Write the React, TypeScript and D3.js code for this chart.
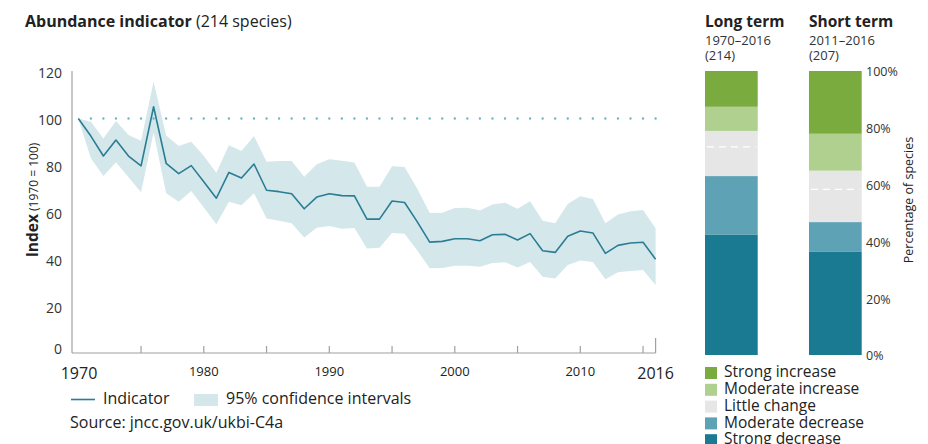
import React from "react";
import * as d3 from "d3";

const years = [1970,1971,1972,1973,1974,1975,1976,1977,1978,1979,1980,1981,1982,1983,1984,1985,1986,1987,1988,1989,1990,1991,1992,1993,1994,1995,1996,1997,1998,1999,2000,2001,2002,2003,2004,2005,2006,2007,2008,2009,2010,2011,2012,2013,2014,2015,2016];
const indicator = [100,92.5,84,90.8,84,79.8,105,80.9,76.5,79.9,73,66,77,74.6,80.6,69.4,68.8,67.9,61.5,66.5,67.9,67.1,67,57.1,57.1,64.8,64.2,56,47.3,47.6,48.7,48.7,47.9,50.4,50.6,48.2,50.9,43.6,42.9,49.8,52,51.2,42.5,45.9,46.9,47.2,40];
const upper = [100,98.6,91.5,98.9,93,90.5,115.7,92.7,88.3,90.1,84,76.9,88.6,86.1,92.5,81.6,81.9,81.9,75.2,80.5,82.6,82,81.2,70.9,70.9,79.6,79.3,70.2,59.7,59.8,61.8,61.9,60.8,63.3,64.1,61.5,64.7,56.4,55.3,63.5,66.8,65.7,55.3,59.1,60.4,61,53.2];
const lower = [100,83,75.5,81.3,74.9,68.5,94,68.1,64.5,69.1,62,54.9,64.5,63,68.1,57.4,56.4,55.3,49.3,53.4,54.2,53,53.3,44.6,44.9,51.2,50.9,43.8,36.1,36.3,37.2,37.2,36.8,38.4,38.7,36.5,38.8,32.5,31.8,37.5,39.4,38.8,31.4,34.4,35,35.4,29];
const yTicks = [0,20,40,60,80,100,120];
const xTicks = [1975,1980,1985,1990,1995,2000,2005,2010,2015,2016];
const xLabels = [1970,1980,1990,2000,2010,2016];

const barGroups = ["Long term","Short term"];
const barPeriods = ["1970–2016","2011–2016"];
const barCounts = ["(214)","(207)"];
const categories = ["Strong decrease","Moderate decrease","Little change","Moderate increase","Strong increase"];
const longTerm = [42.3,20.7,15.9,8.5,12.6];
const shortTerm = [36.3,10.5,18.1,13.0,22.1];
const dashMarks = [73.3,58.3];
const pctTicks = [0,20,40,60,80,100];
const catColors = ["#1a7a92","#5ea3b5","#e6e6e6","#afd08f","#7aab3f"];
const legendOrder = ["Strong increase","Moderate increase","Little change","Moderate decrease","Strong decrease"];

const FONT = "'Open Sans', 'Noto Sans', sans-serif";

export default function App() {
  const x = d3.scaleLinear().domain([1970, 2016]).range([78.3, 655.6]);
  const y = d3.scaleLinear().domain([0, 120]).range([353, 71.6]);
  const pts = years.map((yr, i) => ({ yr, v: indicator[i], lo: lower[i], hi: upper[i] }));
  const area = d3.area<any>().x(d => x(d.yr)).y0(d => y(d.lo)).y1(d => y(d.hi));
  const line = d3.line<any>().x(d => x(d.yr)).y(d => y(d.v));

  const bx = d3.scaleBand().domain(barGroups).range([705, 861.7]).paddingInner(0.493).paddingOuter(0);
  const by = d3.scaleLinear().domain([0, 100]).range([355, 71]);
  const barData = [longTerm, shortTerm];
  const step = x(1971) - x(1970);

  return (
    <svg width={928} height={444} style={{ position: "absolute", left: 0, top: 0, background: "#fff" }} fontFamily={FONT}>
      <text x={25} y={27} fontSize={16} fill="#222">
        <tspan fontWeight="bold">Abundance indicator</tspan>
        <tspan> (214 species)</tspan>
      </text>

      {/* CI band and line */}
      <path d={area(pts) || ""} fill="#d4e7eb" />
      <line x1={x(1971)} x2={x(2016) + 1} y1={y(100)} y2={y(100)} stroke="#6db6c4" strokeWidth={2.4} strokeLinecap="round" strokeDasharray={`0 ${step}`} />
      <path d={line(pts) || ""} fill="none" stroke="#2a7d93" strokeWidth={1.6} strokeLinejoin="round" />

      {/* axes */}
      <line x1={72} x2={72} y1={71} y2={y(0)} stroke="#a0a0a0" strokeWidth={1.2} />
      <line x1={72} x2={x(2016)} y1={y(0)} y2={y(0)} stroke="#a0a0a0" strokeWidth={1.2} />
      {xTicks.map(t => (
        <line key={t} x1={x(t)} x2={x(t)} y1={y(0)} y2={y(0) - (t === 2016 ? 15 : 7)} stroke="#a0a0a0" strokeWidth={1.2} />
      ))}
      {yTicks.map(t => (
        <text key={t} x={62} y={t === 0 ? y(t) - 3 : y(t) + 3} textAnchor="end" dominantBaseline="middle" fontSize={14} fill="#333">{t}</text>
      ))}
      {xLabels.map(t => {
        const big = t === 1970 || t === 2016;
        return (
          <text key={t} x={t === 1970 ? 79 : x(t)} y={big ? 379 : 376} textAnchor="middle" fontSize={big ? 16 : 13} fill="#222">{t}</text>
        );
      })}
      <text transform="translate(38,200) rotate(-90)" textAnchor="middle" fill="#222">
        <tspan fontWeight="bold" fontSize={15.5}>Index</tspan>
        <tspan fontSize={12}> (1970 = 100)</tspan>
      </text>

      {/* legend */}
      <line x1={71} x2={95} y1={399.5} y2={399.5} stroke="#2a7d93" strokeWidth={1.6} />
      <text x={103} y={399.5} dominantBaseline="middle" fontSize={16} fill="#222">Indicator</text>
      <rect x={194} y={394} width={24} height={12} fill="#d4e7eb" />
      <text x={226} y={399.5} dominantBaseline="middle" fontSize={16} fill="#222">95% confidence intervals</text>
      <text x={70} y={424} dominantBaseline="middle" fontSize={16} fill="#222">Source: jncc.gov.uk/ukbi-C4a</text>

      {/* bars */}
      {barGroups.map((g, gi) => {
        const vals = barData[gi];
        const cum = d3.cumsum(vals);
        const bw = bx.bandwidth();
        return (
          <g key={g}>
            <text x={bx(g)} y={27} fontSize={15.5} fontWeight="bold" fill="#222">{g}</text>
            <text x={bx(g)} y={45} fontSize={13} fill="#333">{barPeriods[gi]}</text>
            <text x={bx(g)} y={60} fontSize={13} fill="#333">{barCounts[gi]}</text>
            {vals.map((v, i) => (
              <rect key={i} x={bx(g)} width={bw} y={by(cum[i])} height={by(cum[i] - v) - by(cum[i])} fill={catColors[i]} />
            ))}
            <line x1={(bx(g) as number) + 2} x2={(bx(g) as number) + bw - 2} y1={by(dashMarks[gi])} y2={by(dashMarks[gi])} stroke="#fff" strokeWidth={1.2} strokeDasharray="7 5" />
          </g>
        );
      })}
      {pctTicks.map(t => (
        <text key={t} x={866} y={by(t) + 2} dominantBaseline="middle" fontSize={12.5} fill="#333">{t}%</text>
      ))}
      <text transform="translate(913,200) rotate(-90)" textAnchor="middle" fontSize={12.5} fill="#222">Percentage of species</text>

      {legendOrder.map((c, i) => (
        <g key={c}>
          <rect x={705} y={367 + i * 16.8} width={12} height={12} fill={catColors[categories.indexOf(c)]} />
          <text x={724} y={373 + i * 16.8} dominantBaseline="middle" fontSize={15.5} fill="#222">{c}</text>
        </g>
      ))}
    </svg>
  );
}
